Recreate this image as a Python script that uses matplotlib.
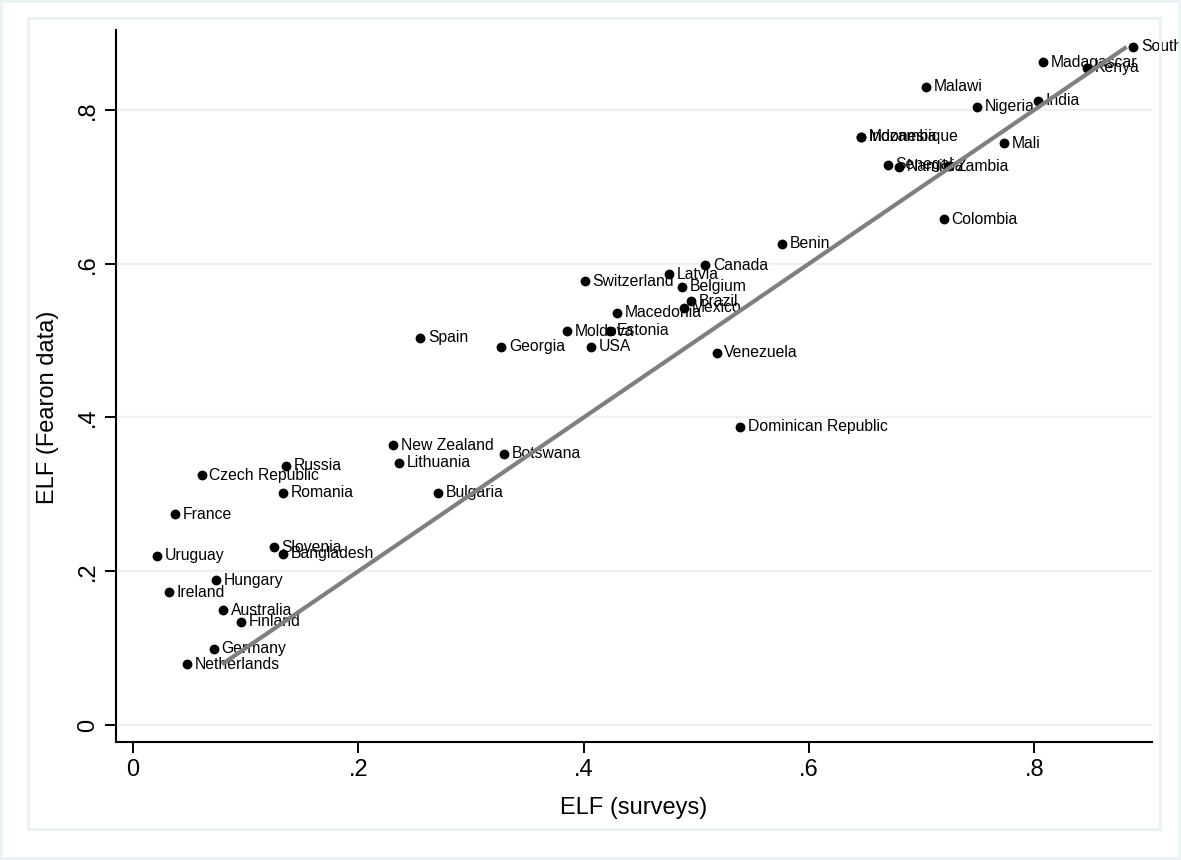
import matplotlib
matplotlib.use("Agg")
import matplotlib.pyplot as plt
from matplotlib.patches import Rectangle

countries = [
    "South", "Madagascar", "Kenya", "Malawi", "India", "Nigeria",
    "Indonesia", "Mozambique", "Mali", "Senegal", "Namibia", "Zambia",
    "Colombia", "Benin", "Canada", "Latvia", "Switzerland", "Belgium",
    "Brazil", "Mexico", "Macedonia", "Moldova", "Estonia", "Spain",
    "Georgia", "USA", "Venezuela", "Dominican Republic", "New Zealand",
    "Botswana", "Lithuania", "Russia", "Czech Republic", "Romania",
    "Bulgaria", "France", "Slovenia", "Bangladesh", "Uruguay", "Hungary",
    "Ireland", "Australia", "Finland", "Germany", "Netherlands",
]
elf_surveys = [
    0.888, 0.808, 0.847, 0.704, 0.803, 0.749,
    0.646, 0.646, 0.773, 0.670, 0.680, 0.724,
    0.720, 0.576, 0.508, 0.476, 0.401, 0.487,
    0.495, 0.489, 0.430, 0.385, 0.423, 0.255,
    0.327, 0.407, 0.518, 0.539, 0.231,
    0.329, 0.236, 0.136, 0.061, 0.133,
    0.271, 0.037, 0.125, 0.133, 0.021, 0.074,
    0.032, 0.080, 0.096, 0.072, 0.048,
]
elf_fearon = [
    0.882, 0.862, 0.855, 0.830, 0.812, 0.804,
    0.765, 0.765, 0.757, 0.729, 0.726, 0.727,
    0.658, 0.626, 0.598, 0.586, 0.577, 0.570,
    0.551, 0.543, 0.536, 0.512, 0.513, 0.504,
    0.492, 0.492, 0.484, 0.388, 0.364,
    0.353, 0.341, 0.337, 0.325, 0.302,
    0.302, 0.274, 0.231, 0.223, 0.220, 0.188,
    0.173, 0.149, 0.134, 0.099, 0.079,
]
ticks = [0, 0.2, 0.4, 0.6, 0.8]
tick_labels = ["0", ".2", ".4", ".6", ".8"]

plt.rcParams["font.family"] = ["Liberation Sans", "DejaVu Sans"]

fig = plt.figure(figsize=(11.81, 8.6), dpi=100)
fig.patch.set_facecolor("white")
ax = fig.add_axes([0.0982, 0.1372, 0.8773, 0.8279])

ax.scatter(elf_surveys, elf_fearon, s=50, color="black", zorder=3, linewidths=0)
for name, x, y in zip(countries, elf_surveys, elf_fearon):
    ax.annotate(name, (x, y), xytext=(5.5, 0), textcoords="offset points",
                ha="left", va="center", fontsize=11.3, color="black",
                zorder=4, annotation_clip=False)

# 45 degree reference line over the range of the Fearon values
lo, hi = min(elf_fearon), max(elf_fearon)
ax.plot([lo, hi], [lo, hi], color="#7f7f7f", lw=3.0, zorder=5,
        solid_capstyle="butt")

ax.set_xlim(-0.0151, 0.9046)
ax.set_ylim(-0.0221, 0.904)
ax.set_xticks(ticks)
ax.set_xticklabels(tick_labels)
ax.set_yticks(ticks)
ax.set_yticklabels(tick_labels, rotation=90, va="center")
ax.tick_params(axis="both", direction="out", length=8, width=1.4,
               labelsize=17, pad=4, color="black")

ax.yaxis.grid(True, color="#EAF2F3", lw=1.6, zorder=0)
ax.set_axisbelow(True)
for side in ("top", "right"):
    ax.spines[side].set_visible(False)
for side in ("left", "bottom"):
    ax.spines[side].set_linewidth(1.5)

ax.set_xlabel("ELF (surveys)", fontsize=17, labelpad=12)
ax.set_ylabel("ELF (Fearon data)", fontsize=17)
ax.yaxis.set_label_coords(-0.055, 0.47)

# inner frame and outer border of the graph region
fig.patches.append(Rectangle((28 / 1181, 1 - 829 / 860), 1132 / 1181, 811 / 860,
                             transform=fig.transFigure, fill=False,
                             ec="#EAF2F3", lw=2.2, zorder=0))
fig.patches.append(Rectangle((0, 0), 1, 1, transform=fig.transFigure,
                             fill=False, ec="#EAF2F3", lw=4, zorder=0))

fig.savefig("out.png", dpi=100, facecolor="white")
